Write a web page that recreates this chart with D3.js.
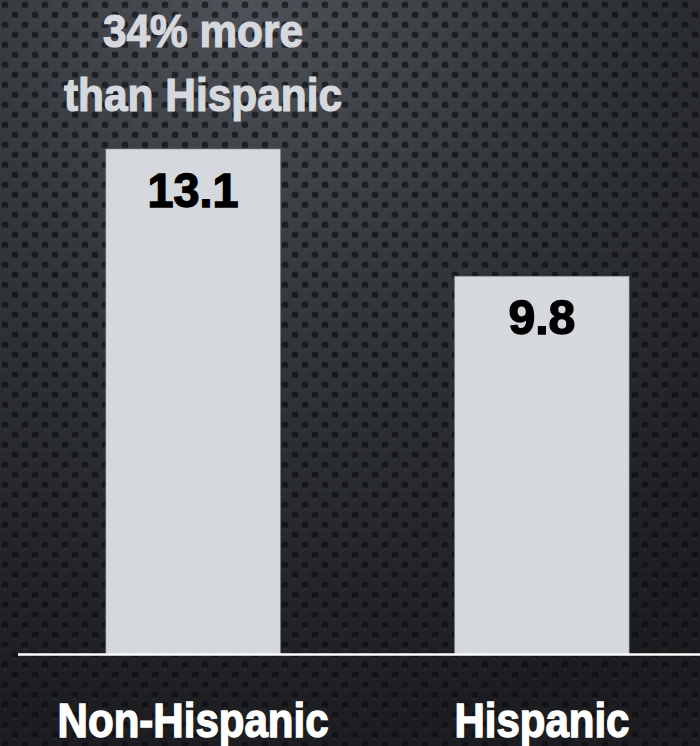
<!DOCTYPE html>
<html>
<head>
<meta charset="utf-8">
<script src="https://cdn.jsdelivr.net/npm/d3@7"></script>
<style>
  html, body { margin: 0; padding: 0; background: #1c1d20; }
  svg { display: block; }
  text { font-family: "Liberation Sans", Arial, sans-serif; font-weight: bold; }
</style>
</head>
<body>
<svg id="chart" width="700" height="746"></svg>
<script>
// ---- data ----
const categories = ["Non-Hispanic", "Hispanic"];
const values = [13.1, 9.8];
const valueLabels = ["13.1", "9.8"];
const annotationLines = ["34% more", "than Hispanic"];

// ---- setup ----
const W = 700, H = 746;
const svg = d3.select("#chart");
const defs = svg.append("defs");

const grad = defs.append("radialGradient").attr("id", "bg")
  .attr("cx", "0.35").attr("cy", "0.0").attr("r", "1.0");
grad.append("stop").attr("offset", "0%").attr("stop-color", "#4e5258");
grad.append("stop").attr("offset", "40%").attr("stop-color", "#35383d");
grad.append("stop").attr("offset", "75%").attr("stop-color", "#25272b");
grad.append("stop").attr("offset", "100%").attr("stop-color", "#1c1d20");

const pat = defs.append("pattern").attr("id", "dots")
  .attr("width", 20).attr("height", 20).attr("patternUnits", "userSpaceOnUse");
[[5, 5], [15, 15]].forEach(([cx, cy]) => {
  pat.append("circle").attr("cx", cx).attr("cy", cy).attr("r", 3.4)
    .attr("fill", "#0b0d11").attr("opacity", 0.65);
  pat.append("circle").attr("cx", cx).attr("cy", cy + 3.4).attr("r", 2.0)
    .attr("fill", "#ffffff").attr("opacity", 0.04);
});

svg.append("rect").attr("width", W).attr("height", H).attr("fill", "url(#bg)");
svg.append("rect").attr("width", W).attr("height", H).attr("fill", "url(#dots)");

// ---- scales ----
const x = d3.scaleBand().domain(categories).range([18, 717])
  .paddingInner(0.5).paddingOuter(0.252);
const baseY = 654;
const y = d3.scaleLinear().domain([0, 13.1]).range([baseY, 149]);

const data = categories.map((c, i) => ({ c, v: values[i], label: valueLabels[i] }));
const valueWidths = { "13.1": 91, "9.8": 67 };
const catWidths = { "Non-Hispanic": 271, "Hispanic": 175 };
const annWidths = [200, 278];

// bars
svg.selectAll("rect.bar").data(data).join("rect").attr("class", "bar")
  .attr("x", d => x(d.c)).attr("width", x.bandwidth())
  .attr("y", d => y(d.v)).attr("height", d => baseY - y(d.v))
  .attr("fill", "#d5d9dd").attr("stroke", "#8a8f95").attr("stroke-width", 0.6);

// value labels
svg.selectAll("text.val").data(data).join("text").attr("class", "val")
  .attr("x", d => x(d.c) + x.bandwidth() / 2)
  .attr("y", d => y(d.v) + 58)
  .attr("text-anchor", "middle").attr("font-size", 49).attr("fill", "#000")
  .attr("stroke", "#000").attr("stroke-width", 1.4)
  .attr("textLength", d => valueWidths[d.label]).attr("lengthAdjust", "spacingAndGlyphs")
  .text(d => d.label);

// baseline axis
const axis = d3.axisBottom(x).tickSize(0).tickPadding(0);
const ax = svg.append("g").attr("transform", `translate(0,${baseY})`).call(axis);
ax.select(".domain").remove();
ax.append("line").attr("x1", 18).attr("x2", W).attr("y1", 0.5).attr("y2", 0.5)
  .attr("stroke", "#ffffff").attr("stroke-width", 2.5);
ax.selectAll(".tick text")
  .attr("y", 83).attr("dy", 0)
  .attr("font-size", 48).attr("fill", "#ffffff")
  .attr("stroke", "#ffffff").attr("stroke-width", 1.4)
  .attr("font-family", "'Liberation Sans', Arial, sans-serif")
  .attr("font-weight", "bold")
  .attr("textLength", d => catWidths[d]).attr("lengthAdjust", "spacingAndGlyphs");

// annotation
annotationLines.forEach((t, i) => {
  svg.append("text").attr("text-anchor", "middle")
    .attr("font-size", 46).attr("fill", "#d5d9dd")
    .attr("stroke", "#d5d9dd").attr("stroke-width", 1.2)
    .attr("x", 203).attr("y", 47 + i * 64)
    .attr("textLength", annWidths[i]).attr("lengthAdjust", "spacingAndGlyphs")
    .text(t);
});
</script>
</body>
</html>
